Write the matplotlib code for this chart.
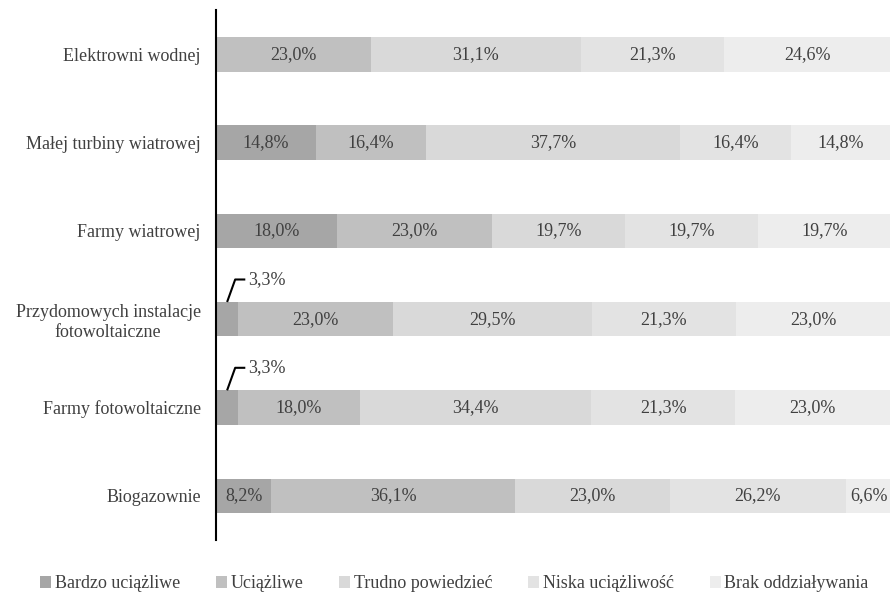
import numpy as np
import matplotlib
matplotlib.use('Agg')
import matplotlib.pyplot as plt

plt.rcParams['font.family'] = ['Liberation Serif', 'DejaVu Serif']

categories = ['Elektrowni wodnej', 'Małej turbiny wiatrowej', 'Farmy wiatrowej',
              'Przydomowych instalacje\nfotowoltaiczne', 'Farmy fotowoltaiczne', 'Biogazownie']
series = ['Bardzo uciążliwe', 'Uciążliwe', 'Trudno powiedzieć', 'Niska uciążliwość', 'Brak oddziaływania']
bardzo = [0.0, 14.8, 18.0, 3.3, 3.3, 8.2]
uciazliwe = [23.0, 16.4, 23.0, 23.0, 18.0, 36.1]
trudno = [31.1, 37.7, 19.7, 29.5, 34.4, 23.0]
niska = [21.3, 16.4, 19.7, 21.3, 21.3, 26.2]
brak = [24.6, 14.8, 19.7, 23.0, 23.0, 6.6]
colors = ['#a6a6a6', '#c0c0c0', '#d9d9d9', '#e3e3e3', '#ededed']

values = [bardzo, uciazliwe, trudno, niska, brak]
txt = '#404040'
fs = 13

fig = plt.figure(figsize=(8.91, 5.94), dpi=100)
ax = fig.add_axes([0.2424, 0.0909, 0.7566, 0.892])

y = np.arange(len(categories))
bh = 0.39
left = np.zeros(len(categories))
for name, vals, col in zip(series, values, colors):
    vals = np.array(vals)
    ax.barh(y, vals, left=left, height=bh, color=col, label=name)
    for i, v in enumerate(vals):
        if v == 0:
            continue
        lab = f'{v:.1f}%'.replace('.', ',')
        if v < 5:
            # small segment -> leader line and label above the bar
            x0 = left[i] + v / 2
            ly = y[i] - 0.45
            ax.plot([x0, x0 + 1.2, x0 + 2.7], [y[i] - bh / 2, ly, ly],
                    color='black', lw=1.5, solid_capstyle='butt')
            ax.text(x0 + 3.1, ly, lab, ha='left', va='center', fontsize=fs, color=txt)
        else:
            ax.text(left[i] + v / 2, y[i], lab, ha='center', va='center',
                    fontsize=fs, color=txt)
    left += vals

ax.set_ylim(len(categories) - 0.5, -0.5)
ax.set_xlim(0, 100)
ax.set_yticks(y)
ax.set_yticklabels(categories, fontsize=fs, color=txt, multialignment='center')
ax.tick_params(axis='y', length=0, pad=11)
ax.set_xticks([])
for s in ['top', 'right', 'bottom']:
    ax.spines[s].set_visible(False)
ax.spines['left'].set_linewidth(1.5)

fig.legend(loc='center', bbox_to_anchor=(0.51, 0.017), ncol=5, frameon=False,
           fontsize=fs, handlelength=0.6, handleheight=0.6, handletextpad=0.2,
           columnspacing=2.0, labelcolor=txt)

fig.savefig('out.png', dpi=100)
